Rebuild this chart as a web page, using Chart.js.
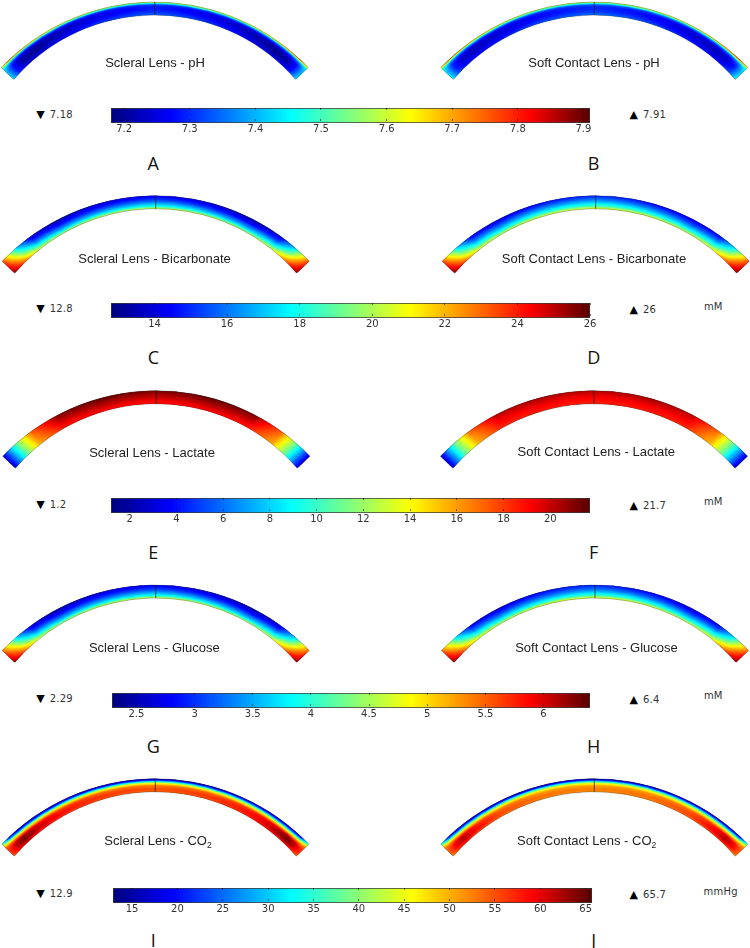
<!DOCTYPE html>
<html>
<head>
<meta charset="utf-8">
<title>Lens fields</title>
<script src="https://cdn.jsdelivr.net/npm/chart.js@4/dist/chart.umd.min.js"></script>
<style>
  html, body { margin: 0; padding: 0; background: #fff; }
  #page { position: relative; width: 750px; height: 948px; overflow: hidden; }
  #page canvas { position: absolute; }
  .txt { position: absolute; white-space: nowrap; transform: translate(-50%, -50%); }
  .left { transform: translate(0, -50%); }
  .title { font: 13px "Liberation Sans", sans-serif; color: #222; }
  .letter { font: 18px "Open Sans", sans-serif; color: #111; }
  .range { font: 10px "DejaVu Sans", sans-serif; color: #333; letter-spacing: .2px; }
  .tri { font: 11px "DejaVu Sans", sans-serif; color: #000; }
  sub { font-size: 8.5px; line-height: 0; }
</style>
</head>
<body>
<div id="page"></div>
<script>
// === values ===
// along the lens, centre to edge (fraction of half the arc)
var stations = [0, 0.35, 0.6, 0.78, 0.88, 0.94, 1]
// across the lens, outer surface to inner surface
var depths = [0, 0.08, 0.18, 0.32, 0.5, 0.75, 1]

var phScleral = [
  [7.58, 7.60, 7.63, 7.68, 7.72, 7.76, 7.63],
  [7.43, 7.43, 7.43, 7.44, 7.45, 7.49, 7.49],
  [7.32, 7.30, 7.29, 7.29, 7.30, 7.34, 7.44],
  [7.29, 7.26, 7.23, 7.22, 7.24, 7.28, 7.42],
  [7.29, 7.25, 7.22, 7.19, 7.20, 7.27, 7.41],
  [7.31, 7.28, 7.24, 7.21, 7.22, 7.27, 7.42],
  [7.35, 7.31, 7.28, 7.26, 7.27, 7.31, 7.44]
]
var phSoft = [
  [7.58, 7.60, 7.64, 7.69, 7.74, 7.78, 7.66],
  [7.45, 7.45, 7.45, 7.46, 7.47, 7.50, 7.50],
  [7.34, 7.32, 7.31, 7.31, 7.32, 7.36, 7.46],
  [7.30, 7.28, 7.25, 7.24, 7.26, 7.30, 7.44],
  [7.30, 7.27, 7.24, 7.22, 7.23, 7.29, 7.43],
  [7.32, 7.29, 7.26, 7.24, 7.25, 7.30, 7.44],
  [7.36, 7.33, 7.30, 7.28, 7.29, 7.33, 7.46]
]
var bicarbScleral = [
  [14.4, 13.9, 13.3, 13.9, 16.8, 20.0, 23.4],
  [14.6, 14.1, 13.6, 14.2, 17.2, 20.3, 23.6],
  [14.9, 14.4, 14.0, 14.6, 17.7, 20.7, 23.8],
  [15.4, 14.9, 14.5, 15.3, 18.4, 21.3, 24.1],
  [16.4, 15.8, 15.6, 16.5, 19.4, 22.2, 24.5],
  [17.8, 17.4, 17.2, 18.4, 21.2, 23.2, 25.0],
  [20.7, 20.5, 20.3, 20.7, 22.7, 24.4, 25.5]
]
var bicarbSoft = [
  [15.0, 14.5, 14.0, 14.4, 17.1, 20.2, 23.4],
  [15.3, 14.8, 14.3, 14.7, 17.5, 20.5, 23.6],
  [15.7, 15.2, 14.8, 15.2, 18.0, 20.9, 23.8],
  [16.3, 15.8, 15.4, 15.9, 18.7, 21.5, 24.1],
  [17.2, 16.7, 16.4, 17.1, 19.7, 22.4, 24.5],
  [18.6, 18.2, 18.0, 18.8, 21.4, 23.3, 25.1],
  [21.0, 20.8, 20.6, 21.0, 22.9, 24.5, 25.6]
]
var lactateScleral = [
  [21.1, 21.5, 21.1, 17.4, 11.8, 7.6, 2.8],
  [20.9, 21.3, 20.9, 17.2, 11.8, 7.6, 2.8],
  [20.7, 21.1, 20.7, 17.0, 11.6, 7.4, 2.8],
  [20.3, 20.7, 20.3, 16.7, 11.5, 7.4, 2.8],
  [19.9, 20.3, 19.9, 16.4, 11.3, 7.2, 2.8],
  [19.2, 19.6, 19.2, 16.0, 11.0, 7.0, 2.8],
  [18.8, 19.0, 18.6, 15.6, 10.8, 6.9, 2.8]
]
var lactateSoft = [
  [20.2, 20.5, 20.2, 17.0, 11.6, 7.4, 2.8],
  [20.0, 20.3, 20.0, 16.8, 11.5, 7.4, 2.8],
  [19.8, 20.1, 19.8, 16.6, 11.4, 7.3, 2.8],
  [19.5, 19.8, 19.5, 16.3, 11.3, 7.2, 2.8],
  [19.2, 19.4, 19.2, 16.0, 11.1, 7.1, 2.8],
  [18.8, 19.0, 18.8, 15.7, 10.9, 6.9, 2.8],
  [18.5, 18.6, 18.3, 15.3, 10.7, 6.8, 2.8]
]
var glucoseScleral = [
  [2.78, 2.62, 2.45, 2.62, 3.52, 4.55, 5.45],
  [2.87, 2.70, 2.54, 2.72, 3.65, 4.63, 5.52],
  [2.95, 2.78, 2.66, 2.85, 3.81, 4.76, 5.60],
  [3.11, 2.95, 2.82, 3.05, 4.02, 4.92, 5.72],
  [3.40, 3.24, 3.15, 3.44, 4.35, 5.21, 5.90],
  [3.85, 3.73, 3.65, 4.02, 4.92, 5.54, 6.07],
  [4.76, 4.67, 4.63, 4.76, 5.37, 5.91, 6.24]
]
var glucoseSoft = [
  [2.95, 2.80, 2.63, 2.78, 3.62, 4.60, 5.45],
  [3.05, 2.88, 2.72, 2.88, 3.75, 4.68, 5.52],
  [3.15, 2.98, 2.85, 3.02, 3.92, 4.82, 5.62],
  [3.32, 3.15, 3.02, 3.22, 4.14, 4.98, 5.74],
  [3.60, 3.45, 3.35, 3.62, 4.46, 5.26, 5.92],
  [4.05, 3.92, 3.85, 4.18, 5.00, 5.58, 6.08],
  [4.88, 4.80, 4.75, 4.88, 5.44, 5.93, 6.25]
]
var co2Scleral = [
  [15.5, 15.5, 15.5, 15.5, 16.1, 18.2, 36.7],
  [20.8, 20.8, 20.8, 21.3, 22.4, 26.1, 41.9],
  [33.0, 33.0, 33.0, 34.0, 35.1, 39.3, 48.8],
  [45.6, 46.2, 47.2, 48.8, 50.9, 52.5, 54.1],
  [52.5, 54.1, 56.7, 60.4, 63.6, 61.5, 56.2],
  [55.1, 56.7, 58.8, 62.0, 64.6, 62.0, 56.2],
  [53.6, 55.1, 56.7, 58.3, 59.4, 57.8, 54.1]
]
var co2Soft = [
  [15.5, 15.5, 15.5, 15.5, 16.1, 18.2, 35.5],
  [21.5, 21.5, 21.5, 22.0, 23.0, 26.5, 41.0],
  [33.5, 33.5, 33.5, 34.0, 35.0, 39.0, 47.5],
  [45.0, 45.5, 46.0, 47.5, 49.5, 51.0, 52.5],
  [50.5, 51.5, 53.5, 57.5, 61.0, 59.0, 54.0],
  [52.5, 53.5, 55.5, 59.5, 62.5, 60.0, 54.0],
  [51.5, 52.5, 54.0, 55.5, 57.0, 55.5, 52.0]
]

var phTicks = [7.2, 7.3, 7.4, 7.5, 7.6, 7.7, 7.8, 7.9]
var bicarbTicks = [14, 16, 18, 20, 22, 24, 26]
var lactateTicks = [2, 4, 6, 8, 10, 12, 14, 16, 18, 20]
var glucoseTicks = [2.5, 3, 3.5, 4, 4.5, 5, 5.5, 6]
var co2Ticks = [15, 20, 25, 30, 35, 40, 45, 50, 55, 60, 65]

var rangeMins = [7.18, 12.8, 1.2, 2.29, 12.9]
var rangeMaxs = [7.91, 26, 21.7, 6.4, 65.7]
var units = ["", "mM", "mM", "mM", "mmHg"]
var scleralTitles = ["Scleral Lens - pH", "Scleral Lens - Bicarbonate", "Scleral Lens - Lactate", "Scleral Lens - Glucose", "Scleral Lens - CO<sub>2</sub>"]
var softTitles = ["Soft Contact Lens - pH", "Soft Contact Lens - Bicarbonate", "Soft Contact Lens - Lactate", "Soft Contact Lens - Glucose", "Soft Contact Lens - CO<sub>2</sub>"]
var scleralLetters = ["A", "C", "E", "G", "I"]
var softLetters = ["B", "D", "F", "H", "J"]
var scleralFields = [phScleral, bicarbScleral, lactateScleral, glucoseScleral, co2Scleral]
var softFields = [phSoft, bicarbSoft, lactateSoft, glucoseSoft, co2Soft]
var tickSets = [phTicks, bicarbTicks, lactateTicks, glucoseTicks, co2Ticks]

// jet-like map of the colour bars
var mapPositions = [0, 0.125, 0.375, 0.625, 0.875, 1]
var mapColours = [[0, 0, 125], [0, 0, 255], [0, 255, 255], [255, 255, 0], [255, 0, 0], [85, 0, 0]]

// === page layout, px ===
var lensLeftX = [154.7, 155.7, 156.3, 155.7, 155.3]
var lensRightX = [594.3, 595.7, 594, 595, 594.3]
var lensTopY = [2, 195.7, 390.7, 585, 778.7]
var titleLeft = [[155, 61.8], [154.5, 257.6], [152, 451.6], [154.3, 647], [158, 839.6]]
var titleRight = [[594, 61.8], [594, 258], [596.3, 451], [596.5, 647.3], [586.7, 839.6]]
var letterY = [163, 357.3, 552.3, 746.3, 940.3]
var barLeft = [111, 110.7, 110.7, 112, 112.5]
var barRight = [590, 590, 590, 590, 591.7]
var barTop = [108, 302.7, 498.3, 693, 887.7]
var minTextY = [113.5, 308.3, 504, 698, 893]
var unitY = [0, 306, 501.3, 695, 891]

// lens shape, all ten are the same part
var outerTip = [153.5, 65.5]
var innerTip = [141, 77.5]
var thickness = 13
var pivotY = 213 // the cut ends of the lens point at this spot

var page = document.getElementById("page")

function addText(html, x, y, cls) {
  var el = document.createElement("div")
  el.className = "txt " + cls
  el.innerHTML = html
  el.style.left = x + "px"
  el.style.top = y + "px"
  page.appendChild(el)
}

function addCanvas(x, y, w, h) {
  var c = document.createElement("canvas")
  c.width = w
  c.height = h
  c.style.left = x + "px"
  c.style.top = y + "px"
  c.style.width = w + "px"
  c.style.height = h + "px"
  page.appendChild(c)
  return c
}

function mapColour(f) {
  f = Math.max(0, Math.min(1, f))
  for (var i = 1; i < mapPositions.length; i++) {
    if (f <= mapPositions[i]) {
      var t = (f - mapPositions[i - 1]) / (mapPositions[i] - mapPositions[i - 1])
      var a = mapColours[i - 1]
      var b = mapColours[i]
      return "rgb(" + Math.round(a[0] + (b[0] - a[0]) * t) + "," + Math.round(a[1] + (b[1] - a[1]) * t) + "," + Math.round(a[2] + (b[2] - a[2]) * t) + ")"
    }
  }
  return "rgb(85,0,0)"
}

// circle of one layer, through its top and its tip
function layerCircle(depth) {
  var top = depth * thickness
  var hx = outerTip[0] + (innerTip[0] - outerTip[0]) * depth
  var hy = outerTip[1] + (innerTip[1] - outerTip[1]) * depth
  var sag = hy - top
  var r = (hx * hx + sag * sag) / (2 * sag)
  return { r: r, cy: top + r }
}

var halfSpan = Math.atan2(outerTip[0], pivotY - outerTip[1])

// each depth becomes one dataset, its points sit on that layer of the lens
function lensDatasets(field) {
  return depths.map(function (depth, l) {
    var circle = layerCircle(depth)
    var d = pivotY - circle.cy
    var points = []
    var side = [-1, 1]
    side.forEach(function (s) {
      var idx = stations.map(function (u, i) { return i })
      if (s < 0) idx.reverse()
      idx.forEach(function (i) {
        if (s > 0 && i === 0) return
        var th = s * stations[i] * halfSpan
        var t = d * Math.cos(th) + Math.sqrt(circle.r * circle.r - d * d * Math.sin(th) * Math.sin(th))
        points.push({ x: t * Math.sin(th), y: pivotY - t * Math.cos(th), value: field[l][i] })
      })
    })
    return {
      label: "depth " + depth,
      data: points,
      pointRadius: 0,
      showLine: false
    }
  })
}

var lensPlugin = {
  id: "lensField",
  afterDatasetsDraw: function (chart) {
    var ctx = chart.ctx
    var xs = chart.scales.x
    var ys = chart.scales.y
    var opts = chart.options.plugins.lensField
    var px0 = xs.getPixelForValue(0)
    var pivot = ys.getPixelForValue(pivotY)

    function tipPath() {
      var outer = layerCircle(0)
      var inner = layerCircle(1)
      ctx.beginPath()
      ctx.arc(px0, ys.getPixelForValue(outer.cy), outer.r, -Math.PI / 2 - Math.asin(outerTip[0] / outer.r), -Math.PI / 2 + Math.asin(outerTip[0] / outer.r))
      ctx.arc(px0, ys.getPixelForValue(inner.cy), inner.r, -Math.PI / 2 + Math.asin(innerTip[0] / inner.r), -Math.PI / 2 - Math.asin(innerTip[0] / inner.r), true)
      ctx.closePath()
    }

    // angle position of each reading, and its place on the colour map
    var layers = chart.data.datasets.map(function (ds, l) {
      return chart.getDatasetMeta(l).data.map(function (pt, i) {
        var a = Math.atan2(pt.y - pivot, pt.x - px0) + Math.PI / 2 + halfSpan
        return { at: Math.max(0, Math.min(1, a / (2 * Math.PI))), f: (ds.data[i].value - opts.min) / (opts.max - opts.min) }
      })
    })

    ctx.save()
    tipPath()
    ctx.clip()
    ctx.filter = "blur(0.4px)"
    ctx.lineCap = "butt"
    // thin rings from the inner surface out, blending between two layers of readings
    var ringStep = 0.045
    for (var depth = 1 + ringStep; depth >= -ringStep; depth -= ringStep) {
      var d = Math.max(0, Math.min(1, depth))
      var l = 0
      while (l < depths.length - 2 && d > depths[l + 1]) l++
      var mix = (d - depths[l]) / (depths[l + 1] - depths[l])
      var a = layers[l]
      var b = layers[l + 1]
      var g = ctx.createConicGradient(-Math.PI / 2 - halfSpan, px0, pivot)
      for (var i = 0; i < a.length; i++) {
        var f0 = a[i].f + (b[i].f - a[i].f) * mix
        if (i === a.length - 1) {
          g.addColorStop(a[i].at, mapColour(f0))
          break
        }
        var f1 = a[i + 1].f + (b[i + 1].f - a[i + 1].f) * mix
        // small steps so the blend follows the colour map
        for (var k = 0; k < 6; k++) {
          g.addColorStop(a[i].at + (a[i + 1].at - a[i].at) * k / 6, mapColour(f0 + (f1 - f0) * k / 6))
        }
      }
      var circle = layerCircle(depth)
      ctx.strokeStyle = g
      ctx.lineWidth = 1.4
      ctx.beginPath()
      ctx.arc(px0, ys.getPixelForValue(circle.cy), circle.r, -Math.PI / 2 - halfSpan - 0.05, -Math.PI / 2 + halfSpan + 0.05)
      ctx.stroke()
    }
    ctx.restore()

    // edge lines and the centre line
    ctx.save()
    tipPath()
    ctx.lineWidth = 0.7
    ctx.strokeStyle = "rgba(35,35,35,0.45)"
    ctx.stroke()
    ctx.beginPath()
    ctx.moveTo(px0, ys.getPixelForValue(0))
    ctx.lineTo(px0, ys.getPixelForValue(thickness))
    ctx.lineWidth = 1
    ctx.strokeStyle = "rgba(20,20,20,0.7)"
    ctx.stroke()
    ctx.restore()
  }
}

function drawLens(centreX, topY, field, min, max) {
  var canvas = addCanvas(Math.round(centreX) - 160, Math.round(topY) - 3, 320, 90)
  new Chart(canvas, {
    type: "scatter",
    data: { datasets: lensDatasets(field) },
    options: {
      responsive: false,
      animation: false,
      events: [],
      layout: { padding: 0 },
      scales: {
        x: { display: false, min: -160 + (centreX - Math.round(centreX)) * -1, max: 160 + (centreX - Math.round(centreX)) * -1 },
        y: { display: false, reverse: true, min: -3 + (topY - Math.round(topY)) * -1, max: 87 + (topY - Math.round(topY)) * -1 }
      },
      plugins: {
        legend: { display: false },
        tooltip: { enabled: false },
        lensField: { min: min, max: max }
      }
    },
    plugins: [lensPlugin]
  })
}

function drawColourBar(left, right, top, min, max, ticks) {
  var pad = 30
  var canvas = addCanvas(Math.round(left) - pad, Math.round(top), Math.round(right - left) + pad * 2, 27)
  new Chart(canvas, {
    type: "bar",
    data: {
      labels: [""],
      datasets: [{
        data: [[min, max]],
        barPercentage: 1,
        categoryPercentage: 1,
        borderColor: "#3a3a3a",
        borderWidth: 1,
        borderSkipped: false,
        backgroundColor: function (c) {
          var area = c.chart.chartArea
          if (!area) return "#000"
          var g = c.chart.ctx.createLinearGradient(area.left, 0, area.right, 0)
          mapPositions.forEach(function (p) { g.addColorStop(p, mapColour(p)) })
          return g
        }
      }]
    },
    options: {
      indexAxis: "y",
      responsive: false,
      animation: false,
      events: [],
      layout: { padding: { left: pad, right: pad, top: 0, bottom: 0 } },
      scales: {
        x: {
          type: "linear",
          min: min,
          max: max,
          afterBuildTicks: function (scale) {
            scale.ticks = ticks.map(function (v) { return { value: v } })
          },
          border: { display: false, dash: [2, 9, 2] },
          grid: {
            z: 1,
            drawTicks: false,
            color: "rgba(0,0,0,0.55)",
            lineWidth: 1
          },
          ticks: {
            autoSkip: false,
            maxRotation: 0,
            padding: 0,
            color: "#333",
            font: { family: "DejaVu Sans", size: 10 },
            callback: function (v) { return String(v) }
          }
        },
        y: { display: false }
      },
      plugins: { legend: { display: false }, tooltip: { enabled: false } }
    }
  })
}

tickSets.forEach(function (ticks, row) {
  var min = rangeMins[row]
  var max = rangeMaxs[row]

  drawLens(lensLeftX[row], lensTopY[row], scleralFields[row], min, max)
  drawLens(lensRightX[row], lensTopY[row], softFields[row], min, max)
  drawColourBar(barLeft[row], barRight[row], barTop[row], min, max, ticks)

  addText(scleralTitles[row], titleLeft[row][0], titleLeft[row][1], "title")
  addText(softTitles[row], titleRight[row][0], titleRight[row][1], "title")
  addText(scleralLetters[row], 153.3, letterY[row], "letter")
  addText(softLetters[row], 593.7, letterY[row], "letter")

  addText("▼", 40.5, minTextY[row], "tri")
  addText(String(min), 49.7, minTextY[row], "range left")
  addText("▲", 633.7, minTextY[row] + 0.5, "tri")
  addText(String(max), 643, minTextY[row] + 0.5, "range left")
  if (units[row]) addText(units[row], row === 4 ? 720.7 : 713.3, unitY[row], "range")
})
</script>
</body>
</html>
